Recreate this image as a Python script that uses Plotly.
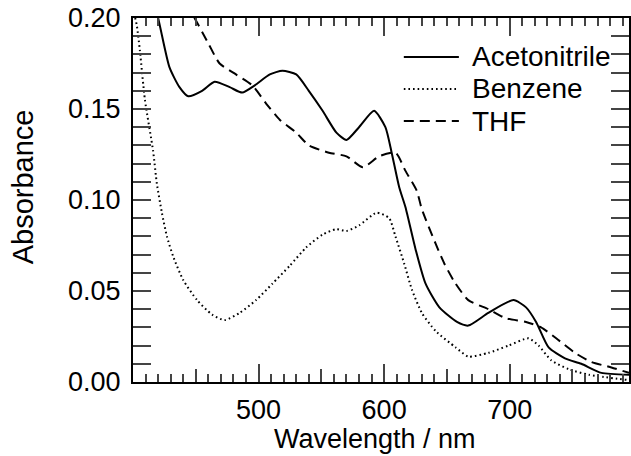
import plotly.graph_objects as go

# Acetonitrile (solid)
acn_x = [410, 420, 429, 437, 444, 455, 465, 477, 487, 497, 509, 519, 530, 540, 551, 562, 570, 580, 592, 601, 606, 612, 617, 625, 633, 644, 658, 667, 683, 703, 713, 721, 731, 744, 757, 773, 795]
acn_y = [0.225, 0.200, 0.173, 0.162, 0.157, 0.160, 0.165, 0.162, 0.159, 0.163, 0.169, 0.171, 0.169, 0.160, 0.149, 0.137, 0.133, 0.140, 0.149, 0.140, 0.126, 0.107, 0.096, 0.073, 0.054, 0.041, 0.033, 0.031, 0.038, 0.045, 0.041, 0.033, 0.019, 0.013, 0.010, 0.005, 0.004]

# Benzene (dotted)
bz_x = [400, 403, 405.5, 409.5, 416, 419, 423, 427, 432, 440, 451, 463, 473, 485, 498, 511, 525, 538, 551, 562, 570, 580, 594, 604, 609, 616, 622, 630, 641, 657, 667, 683, 699, 715, 723, 733, 747, 763, 795]
bz_y = [0.205, 0.196, 0.182, 0.155, 0.127, 0.109, 0.093, 0.080, 0.069, 0.056, 0.045, 0.037, 0.034, 0.038, 0.045, 0.054, 0.064, 0.074, 0.081, 0.084, 0.083, 0.086, 0.093, 0.090, 0.080, 0.065, 0.051, 0.038, 0.028, 0.019, 0.014, 0.016, 0.020, 0.024, 0.020, 0.012, 0.007, 0.004, 0.001]

# THF (dashed)
thf_x = [435, 449, 460, 469, 482, 495, 506, 517, 530, 540, 556, 570, 583, 596, 609, 617, 626, 630, 641, 648, 656, 667, 683, 697, 713, 725, 737, 752, 765, 781, 795]
thf_y = [0.215, 0.200, 0.186, 0.175, 0.169, 0.163, 0.153, 0.144, 0.137, 0.130, 0.126, 0.124, 0.118, 0.124, 0.126, 0.116, 0.105, 0.095, 0.076, 0.065, 0.055, 0.045, 0.040, 0.035, 0.033, 0.030, 0.024, 0.016, 0.011, 0.008, 0.005]

series_names = ["Acetonitrile", "Benzene", "THF"]
x_tickvals = [500, 600, 700]
y_tickvals = [0.00, 0.05, 0.10, 0.15, 0.20]
y_ticktext = ["0.00", "0.05", "0.10", "0.15", "0.20"]
x_title = "Wavelength / nm"
y_title = "Absorbance"

FONT = "Liberation Sans, Arial, Helvetica, sans-serif"
FS = 28
dash_styles = ["solid", "1.6px,3px", "10px,6px"]

fig = go.Figure()
for name, xs, ys, dash in zip(series_names, [acn_x, bz_x, thf_x], [acn_y, bz_y, thf_y], dash_styles):
    fig.add_trace(go.Scatter(x=xs, y=ys, mode="lines", name=name,
                             line=dict(color="black", width=2, dash=dash, shape="spline", smoothing=0.6),
                             showlegend=False))

# invisible trace on the secondary x axis used for the 50-nm medium ticks
fig.add_trace(go.Scatter(x=[450, 750], y=[None, None], xaxis="x2", mode="lines", showlegend=False, hoverinfo="skip"))

fig.update_layout(
    width=631, height=456,
    margin=dict(l=133, r=0, t=18, b=74),
    paper_bgcolor="white", plot_bgcolor="white",
    font=dict(family=FONT, size=FS, color="black"),
    xaxis=dict(range=[400, 795], tickvals=x_tickvals, ticks="inside", ticklen=18, tickwidth=2,
               showline=True, linewidth=2, linecolor="black", mirror="allticks",
               showgrid=False, zeroline=False, ticklabelstandoff=3,
               tickfont=dict(size=27),
               minor=dict(dtick=10, tick0=400, ticks="inside", ticklen=8, tickwidth=2, showgrid=False)),
    xaxis2=dict(range=[400, 795], overlaying="x", anchor="y", side="bottom", tickvals=[450, 550, 650, 750],
                ticks="inside", ticklen=13, tickwidth=2, showticklabels=False, showline=False,
                showgrid=False, zeroline=False),
    yaxis=dict(range=[0, 0.20], tickvals=y_tickvals, ticktext=y_ticktext, ticks="inside", ticklen=18, tickwidth=2,
               showline=True, linewidth=2, linecolor="black", mirror="allticks",
               showgrid=False, zeroline=False, ticklabelstandoff=5,
               tickfont=dict(size=27),
               minor=dict(dtick=0.01, tick0=0, ticks="inside", ticklen=10, tickwidth=2, showgrid=False)),
)

# axis titles
fig.add_annotation(xref="paper", yref="paper", x=0.488, y=-0.1566, text=x_title, showarrow=False,
                   borderpad=0, xanchor="center", yanchor="middle", font=dict(size=27, family=FONT))
fig.add_annotation(xref="paper", yref="paper", x=-0.221, y=0.536, text=y_title, showarrow=False,
                   borderpad=0, textangle=-90, xanchor="center", yanchor="middle", font=dict(size=29, family=FONT))

# legend drawn as line samples + labels
leg_y = [0.893, 0.805, 0.717]
for name, dash, yy in zip(series_names, dash_styles, leg_y):
    fig.add_shape(type="line", xref="paper", yref="paper", x0=0.546, x1=0.657, y0=yy, y1=yy,
                  line=dict(color="black", width=2, dash=dash))
    fig.add_annotation(xref="paper", yref="paper", x=0.681, y=yy, text=name, showarrow=False,
                       borderpad=0, xanchor="left", yanchor="middle", font=dict(size=FS, family=FONT))

fig.write_html("out.html", config={"displayModeBar": False},
               post_script="document.body.style.margin='0px';")
